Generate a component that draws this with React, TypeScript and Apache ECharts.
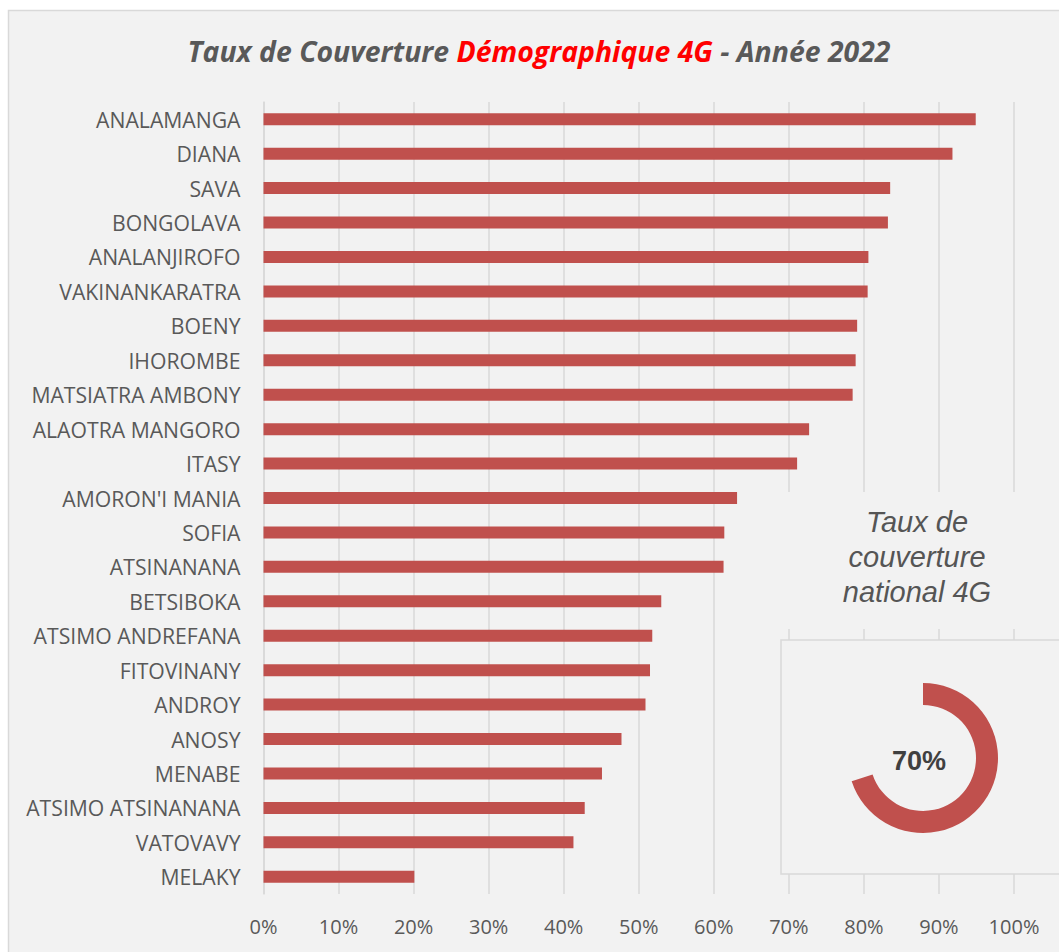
import React, { useEffect, useRef } from "react";
import * as echarts from "echarts";

const regions = [
  "ANALAMANGA", "DIANA", "SAVA", "BONGOLAVA", "ANALANJIROFO", "VAKINANKARATRA",
  "BOENY", "IHOROMBE", "MATSIATRA AMBONY", "ALAOTRA MANGORO", "ITASY",
  "AMORON'I MANIA", "SOFIA", "ATSINANANA", "BETSIBOKA", "ATSIMO ANDREFANA",
  "FITOVINANY", "ANDROY", "ANOSY", "MENABE", "ATSIMO ATSINANANA", "VATOVAVY", "MELAKY",
];
const coverage = [
  94.9, 91.8, 83.5, 83.2, 80.6, 80.5, 79.1, 78.9, 78.5, 72.7, 71.1,
  63.1, 61.4, 61.3, 53.0, 51.8, 51.5, 50.9, 47.7, 45.1, 42.8, 41.3, 20.1,
];
const nationalRate = 70;
const titleParts = ["Taux de Couverture ", "Démographique 4G", " - Année 2022"];
const insetTitle = "Taux de\ncouverture\nnational 4G";

const BAR = "#c0504d";
const GRID = "#d9d9d9";
const TXT = "#595959";

export default function App() {
  const ref = useRef<HTMLDivElement>(null);
  useEffect(() => {
    if (!ref.current) return;
    const chart = echarts.init(ref.current, null, { renderer: "svg" });
    chart.setOption({
      animation: false,
      backgroundColor: "#ffffff",
      graphic: [
        {
          type: "rect",
          z: -10,
          silent: true,
          shape: { x: 8.5, y: 10.5, width: 1200, height: 1100 },
          style: { fill: "#f2f2f2", stroke: GRID, lineWidth: 1.5 },
        },
        {
          type: "text",
          z: 5,
          x: 539,
          y: 51,
          style: {
            text: `{a|${titleParts[0]}}{b|${titleParts[1]}}{a|${titleParts[2]}}`,
            align: "center",
            verticalAlign: "middle",
            rich: {
              a: { fontFamily: "Open Sans", fontStyle: "italic", fontWeight: "bold", fontSize: 28.4, fill: TXT },
              b: { fontFamily: "Open Sans", fontStyle: "italic", fontWeight: "bold", fontSize: 28.4, fill: "#ff0000" },
            },
          },
        },
        {
          type: "rect",
          z: 10,
          silent: true,
          shape: { x: 775, y: 492, width: 260, height: 137 },
          style: { fill: "#f2f2f2" },
        },
        {
          type: "text",
          z: 11,
          x: 917,
          y: 557,
          style: {
            text: insetTitle,
            align: "center",
            verticalAlign: "middle",
            fontFamily: "Liberation Sans",
            fontStyle: "italic",
            fontSize: 29,
            lineHeight: 35,
            fill: "#555555",
          },
        },
        {
          type: "rect",
          z: 10,
          silent: true,
          shape: { x: 781, y: 640, width: 400, height: 234 },
          style: { fill: "#f2f2f2", stroke: GRID, lineWidth: 1.5 },
        },
        {
          type: "text",
          z: 30,
          x: 919,
          y: 761,
          style: {
            text: `${nationalRate}%`,
            align: "center",
            verticalAlign: "middle",
            fontFamily: "Liberation Sans",
            fontWeight: "bold",
            fontSize: 27,
            fill: "#404040",
          },
        },
      ],
      grid: { left: 263.5, right: 45, top: 102, bottom: 58, containLabel: false },
      xAxis: {
        type: "value",
        min: 0,
        max: 100,
        interval: 10,
        axisLine: { show: false },
        axisTick: { show: false },
        splitLine: { show: true, lineStyle: { color: GRID, width: 1.5 } },
        axisLabel: {
          formatter: "{value}%",
          margin: 22,
          fontFamily: "Open Sans",
          fontSize: 20,
          color: TXT,
        },
      },
      yAxis: {
        type: "category",
        inverse: true,
        data: regions,
        axisTick: { show: false },
        axisLine: { show: true, lineStyle: { color: GRID, width: 1.5 } },
        axisLabel: {
          margin: 23,
          fontFamily: "Open Sans",
          fontSize: 21.2,
          color: TXT,
        },
      },
      series: [
        {
          type: "bar",
          data: coverage,
          barWidth: 12,
          itemStyle: { color: BAR },
          z: 2,
        },
        {
          type: "pie",
          z: 20,
          center: [923, 758],
          radius: [53, 75],
          startAngle: 90,
          clockwise: true,
          silent: true,
          label: { show: false },
          labelLine: { show: false },
          data: [
            { value: nationalRate, itemStyle: { color: BAR } },
            { value: 100 - nationalRate, itemStyle: { color: "rgba(0,0,0,0)" } },
          ],
        },
      ],
    });
    return () => chart.dispose();
  }, []);
  return (
    <div
      ref={ref}
      style={{ position: "absolute", left: 0, top: 0, width: 1059, height: 952 }}
    />
  );
}
